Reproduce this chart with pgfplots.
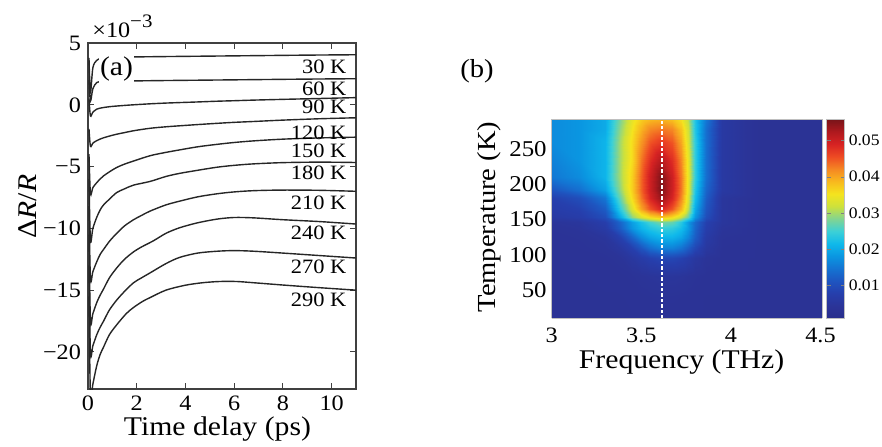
\documentclass[border=0pt]{standalone}
\usepackage{fontspec}
\setmainfont{Liberation Serif}[FakeStretch=1.1]
\usepackage{pgfplots}
\pgfplotsset{compat=1.18}

\newcommand\fs[1]{\fontsize{#1}{#1}\selectfont}

% faded jet-like palette used by the spectrum map and its colour bar
\pgfplotsset{colormap={fadedjet}{
  rgb255(0pt)=(42,46,140); rgb255(1pt)=(43,52,152); rgb255(2pt)=(38,62,172);
  rgb255(3pt)=(30,85,192); rgb255(4pt)=(20,115,210); rgb255(5pt)=(10,150,225);
  rgb255(6pt)=(15,185,235); rgb255(7pt)=(60,208,215); rgb255(8pt)=(130,212,145);
  rgb255(9pt)=(205,225,60); rgb255(10pt)=(245,228,30); rgb255(11pt)=(248,185,30);
  rgb255(12pt)=(245,135,35); rgb255(13pt)=(238,75,35); rgb255(14pt)=(215,35,35);
  rgb255(15pt)=(175,25,30); rgb255(16pt)=(120,20,25)},
  curve/.style={black!85, line width=0.7pt, mark=none, smooth, tension=0.5}}

\begin{document}
\begin{tikzpicture}
\useasboundingbox (0,0) rectangle (441pt,223pt);

% ---------------- (a) transient reflectivity ----------------
\begin{axis}[name=pa, at={(44pt,28.5pt)}, anchor=south west,
  scale only axis, width=134pt, height=173pt,
  xmin=0, xmax=11, ymin=-23, ymax=5,
  xtick={0,2,4,6,8,10}, ytick={-20,-15,-10,-5,0,5},
  yticklabels={−20,−15,−10,−5,0,5},
  /pgf/number format/assume math mode=true,
  tick label style={font=\fs{11}},
  major tick length=3pt,
  axis line style={draw=black!75, line width=0.55pt},
  every tick/.style={draw=black!75, line width=0.5pt},
  xlabel={Time delay (ps)}, ylabel={Δ\textit{R}/\textit{R}},
  xlabel style={font=\fs{13.5}, inner sep=0.5pt, at={(axis description cs:0.483,-0.133)}, anchor=base},
  ylabel style={font=\fs{13.5}, inner sep=0.5pt, at={(axis description cs:-0.194,0.527)}, anchor=base},
]
% 30 K
\addplot[curve] coordinates {(0.04,3.8) (0.10,1.0) (0.2,3.0) (0.36,3.6) (0.6,3.8) (1.0,3.85) (1.75,3.87) (3,3.9) (5,3.94) (7,3.98) (9,4.02) (11,4.05)};
% 60 K
\addplot[curve] coordinates {(0.04,2.0) (0.10,0.3) (0.2,1.3) (0.36,1.8) (0.6,1.9) (1.0,1.92) (1.75,1.93) (3,1.96) (5,2.0) (7,2.04) (9,2.08) (11,2.11)};
% 90 K
\addplot[curve] coordinates {(0.04,0.5) (0.10,-0.9) (0.2,-0.6) (0.36,-0.35) (0.5,-0.27) (0.64,-0.22) (0.9,-0.15) (1.18,-0.1) (1.5,-0.05) (1.87,0.0) (2.55,0.08) (3.2,0.14) (3.76,0.18) (4.5,0.23) (5.3,0.29) (6.0,0.33) (6.8,0.38) (8.0,0.44) (9.5,0.51) (11,0.58)};
% 120 K
\addplot[curve] coordinates {(0.04,-1.95) (0.10,-3.35) (0.2,-3.1) (0.36,-2.9) (0.5,-2.77) (0.64,-2.67) (0.9,-2.52) (1.18,-2.38) (1.5,-2.25) (1.87,-2.1) (2.55,-1.9) (3.2,-1.78) (3.76,-1.7) (4.5,-1.6) (5.3,-1.5) (6.0,-1.42) (6.8,-1.35) (8.0,-1.24) (9.5,-1.13) (11,-1.05)};
% 150 K
\addplot[curve] coordinates {(0.04,-4.0) (0.10,-7.2) (0.2,-6.7) (0.36,-6.3) (0.5,-6.0) (0.64,-5.75) (0.9,-5.4) (1.18,-5.07) (1.5,-4.8) (1.87,-4.55) (2.55,-4.12) (3.2,-3.85) (3.76,-3.65) (4.5,-3.4) (5.3,-3.2) (6.0,-3.05) (6.8,-2.92) (8.0,-2.78) (9.5,-2.68) (11,-2.62)};
% 180 K
\addplot[curve] coordinates {(0.04,-6.0) (0.10,-11.0) (0.2,-10.0) (0.36,-9.1) (0.5,-8.5) (0.64,-8.1) (0.9,-7.6) (1.18,-7.1) (1.5,-6.8) (1.87,-6.5) (2.55,-6.2) (3.2,-5.8) (3.76,-5.55) (4.5,-5.3) (5.3,-5.05) (6.0,-4.9) (6.8,-4.78) (8.0,-4.68) (9.5,-4.64) (11,-4.67)};
% 210 K
\addplot[curve] coordinates {(0.04,-8.2) (0.10,-14.1) (0.2,-13.5) (0.36,-12.7) (0.5,-12.1) (0.64,-11.7) (0.9,-11.0) (1.18,-10.4) (1.5,-9.8) (1.87,-9.3) (2.2,-8.95) (2.55,-8.6) (3.2,-8.1) (3.76,-7.8) (4.5,-7.45) (5.3,-7.2) (6.0,-7.05) (6.8,-6.95) (8.0,-6.9) (9.5,-6.92) (11,-7.0)};
% 240 K
\addplot[curve] coordinates {(0.04,-10.5) (0.10,-17.5) (0.2,-16.9) (0.36,-16.0) (0.5,-15.4) (0.64,-14.9) (0.88,-14.0) (1.18,-13.2) (1.5,-12.5) (1.87,-11.9) (2.2,-11.5) (2.69,-11.0) (3.2,-10.4) (3.76,-9.95) (4.5,-9.55) (5.3,-9.25) (6.0,-9.12) (6.8,-9.15) (8.0,-9.3) (9.5,-9.45) (11,-9.65)};
% 270 K
\addplot[curve] coordinates {(0.04,-13.0) (0.10,-20.1) (0.2,-19.5) (0.36,-18.6) (0.5,-18.0) (0.64,-17.5) (0.88,-16.6) (1.18,-15.8) (1.5,-15.1) (1.87,-14.4) (2.2,-14.0) (2.55,-13.6) (3.2,-12.85) (3.76,-12.35) (4.5,-12.0) (5.3,-11.85) (6.0,-11.8) (6.8,-11.85) (8.0,-12.0) (9.5,-12.2) (11,-12.4)};
% 290 K
\addplot[curve] coordinates {(0.04,-15.5) (0.10,-23.6) (0.2,-22.6) (0.36,-21.1) (0.5,-20.2) (0.64,-19.6) (0.88,-18.6) (1.18,-17.8) (1.57,-16.9) (1.87,-16.4) (2.25,-15.9) (2.55,-15.6) (3.2,-15.0) (4.0,-14.6) (4.7,-14.4) (5.4,-14.3) (6.1,-14.3) (6.8,-14.4) (8.1,-14.6) (9.5,-14.8) (11,-15.0)};

\begin{scope}[every node/.style={anchor=east, inner sep=0pt, font=\fs{10.2}}]
\node at (axis cs:10.62,3.06) {30 K};
\node at (axis cs:10.62,1.3) {60 K};
\node at (axis cs:10.62,-0.2) {90 K};
\node at (axis cs:10.62,-2.28) {120 K};
\node at (axis cs:10.62,-3.72) {150 K};
\node at (axis cs:10.62,-5.53) {180 K};
\node at (axis cs:10.62,-7.9) {210 K};
\node at (axis cs:10.62,-10.35) {240 K};
\node at (axis cs:10.62,-13.1) {270 K};
\node at (axis cs:10.62,-15.8) {290 K};
\end{scope}
\node[fill=white, inner xsep=0.5pt, inner ysep=2pt, font=\fs{13.5}] at (axis cs:1.17,2.87) {(a)};
\end{axis}
\node[anchor=base west, inner sep=0pt, font=\fs{11}] at ([xshift=2pt,yshift=3pt]pa.north west) {×10\raisebox{4.8pt}{\fs{9.5}−3}};

% ---------------- (b) oscillation spectrum map ----------------
\node[font=\fs{13}] at (238.5pt,187.5pt) {(b)};
\begin{axis}[name=pb, at={(275.85pt,63.85pt)}, anchor=south west,
  scale only axis, width=135.3pt, height=99.5pt,
  view={0}{90}, axis on top,
  xmin=3, xmax=4.51, ymin=10, ymax=292,
  xtick={3,3.5,4,4.5}, ytick={50,100,150,200,250}, ztick=\empty,
  major tick length=0pt,
  axis line style={draw=black!25, line width=0.5pt},
  /pgf/number format/assume math mode=true,
  tick label style={font=\fs{11.3}},
  xticklabel style={font=\fs{11}, inner sep=0.5pt, yshift=-4.3pt},
  yticklabel style={xshift=1pt},
  xlabel={Frequency (THz)}, ylabel={Temperature (K)},
  xlabel style={font=\fs{13.5}, inner sep=0pt, at={(axis description cs:0.48,-0.25)}, anchor=base},
  ylabel style={font=\fs{13}, inner sep=0.5pt, at={(axis description cs:-0.2095,0.509)}, anchor=base},
  colormap name=fadedjet, point meta min=0.0008, point meta max=0.0559,
  colorbar,
  colorbar shift/.style={xshift=2.2pt},
  colorbar style={at={(parent axis.north east)}, anchor=north west,
    width=9pt, ytick={0.01,0.02,0.03,0.04,0.05},
    yticklabels={0.01,0.02,0.03,0.04,0.05}, scaled y ticks=false,
    yticklabel style={font=\fs{8}, xshift=-1.5pt},
    major tick length=2pt,
    axis line style={draw=black!25, line width=0.5pt},
    /pgf/number format/assume math mode=true},
]
\addplot3[surf, shader=interp, mesh/cols=16] coordinates {
(3.00,10,0.0035) (3.15,10,0.0035) (3.30,10,0.0035) (3.38,10,0.0035) (3.45,10,0.0035) (3.50,10,0.0035) (3.55,10,0.0035) (3.61,10,0.0036) (3.67,10,0.0036) (3.72,10,0.0035) (3.76,10,0.0035) (3.80,10,0.0035) (3.86,10,0.0035) (3.95,10,0.0035) (4.15,10,0.0035) (4.51,10,0.0035)
(3.00,40,0.0035) (3.15,40,0.0035) (3.30,40,0.0035) (3.38,40,0.0035) (3.45,40,0.0036) (3.50,40,0.0037) (3.55,40,0.0038) (3.61,40,0.0039) (3.67,40,0.0039) (3.72,40,0.0038) (3.76,40,0.0037) (3.80,40,0.0036) (3.86,40,0.0035) (3.95,40,0.0035) (4.15,40,0.0035) (4.51,40,0.0035)
(3.00,70,0.0035) (3.15,70,0.0035) (3.30,70,0.0036) (3.38,70,0.0037) (3.45,70,0.0039) (3.50,70,0.0042) (3.55,70,0.0045) (3.61,70,0.0048) (3.67,70,0.0048) (3.72,70,0.0046) (3.76,70,0.0043) (3.80,70,0.0040) (3.86,70,0.0037) (3.95,70,0.0035) (4.15,70,0.0035) (4.51,70,0.0035)
(3.00,95,0.0035) (3.15,95,0.0036) (3.30,95,0.0038) (3.38,95,0.0042) (3.45,95,0.0055) (3.50,95,0.0068) (3.55,95,0.0080) (3.61,95,0.0090) (3.67,95,0.0090) (3.72,95,0.0082) (3.76,95,0.0070) (3.80,95,0.0055) (3.86,95,0.0042) (3.95,95,0.0036) (4.15,95,0.0035) (4.51,95,0.0035)
(3.00,110,0.0036) (3.15,110,0.0038) (3.30,110,0.0042) (3.38,110,0.0055) (3.45,110,0.0080) (3.50,110,0.0110) (3.55,110,0.0140) (3.61,110,0.0160) (3.67,110,0.0160) (3.72,110,0.0145) (3.76,110,0.0120) (3.80,110,0.0090) (3.86,110,0.0055) (3.95,110,0.0038) (4.15,110,0.0035) (4.51,110,0.0035)
(3.00,125,0.0038) (3.15,125,0.0040) (3.30,125,0.0048) (3.38,125,0.0080) (3.45,125,0.0130) (3.50,125,0.0170) (3.55,125,0.0195) (3.61,125,0.0210) (3.67,125,0.0210) (3.72,125,0.0195) (3.76,125,0.0165) (3.80,125,0.0120) (3.86,125,0.0065) (3.95,125,0.0040) (4.15,125,0.0035) (4.51,125,0.0035)
(3.00,138,0.0040) (3.15,138,0.0045) (3.30,138,0.0065) (3.38,138,0.0120) (3.45,138,0.0180) (3.50,138,0.0210) (3.55,138,0.0230) (3.61,138,0.0245) (3.67,138,0.0240) (3.72,138,0.0220) (3.76,138,0.0185) (3.80,138,0.0130) (3.86,138,0.0075) (3.95,138,0.0045) (4.15,138,0.0035) (4.51,138,0.0035)
(3.00,147,0.0045) (3.15,147,0.0050) (3.30,147,0.0075) (3.38,147,0.0130) (3.45,147,0.0190) (3.50,147,0.0225) (3.55,147,0.0255) (3.61,147,0.0280) (3.67,147,0.0270) (3.72,147,0.0235) (3.76,147,0.0185) (3.80,147,0.0135) (3.86,147,0.0080) (3.95,147,0.0050) (4.15,147,0.0035) (4.51,147,0.0035)
(3.00,153,0.0060) (3.15,153,0.0070) (3.30,153,0.0100) (3.38,153,0.0200) (3.45,153,0.0290) (3.50,153,0.0330) (3.55,153,0.0360) (3.61,153,0.0380) (3.67,153,0.0360) (3.72,153,0.0320) (3.76,153,0.0270) (3.80,153,0.0180) (3.86,153,0.0100) (3.95,153,0.0050) (4.15,153,0.0035) (4.51,153,0.0035)
(3.00,165,0.0070) (3.15,165,0.0080) (3.30,165,0.0120) (3.38,165,0.0240) (3.45,165,0.0330) (3.50,165,0.0400) (3.55,165,0.0450) (3.61,165,0.0490) (3.67,165,0.0450) (3.72,165,0.0390) (3.76,165,0.0310) (3.80,165,0.0200) (3.86,165,0.0110) (3.95,165,0.0050) (4.15,165,0.0035) (4.51,165,0.0035)
(3.00,180,0.0080) (3.15,180,0.0100) (3.30,180,0.0150) (3.38,180,0.0270) (3.45,180,0.0360) (3.50,180,0.0430) (3.55,180,0.0490) (3.61,180,0.0540) (3.67,180,0.0490) (3.72,180,0.0420) (3.76,180,0.0330) (3.80,180,0.0220) (3.86,180,0.0120) (3.95,180,0.0050) (4.15,180,0.0035) (4.51,180,0.0035)
(3.00,192,0.0110) (3.15,192,0.0140) (3.30,192,0.0190) (3.38,192,0.0290) (3.45,192,0.0370) (3.50,192,0.0440) (3.55,192,0.0500) (3.61,192,0.0556) (3.67,192,0.0500) (3.72,192,0.0430) (3.76,192,0.0340) (3.80,192,0.0230) (3.86,192,0.0130) (3.95,192,0.0060) (4.15,192,0.0035) (4.51,192,0.0035)
(3.00,210,0.0150) (3.15,210,0.0170) (3.30,210,0.0210) (3.38,210,0.0300) (3.45,210,0.0370) (3.50,210,0.0440) (3.55,210,0.0500) (3.61,210,0.0555) (3.67,210,0.0500) (3.72,210,0.0430) (3.76,210,0.0340) (3.80,210,0.0240) (3.86,210,0.0140) (3.95,210,0.0060) (4.15,210,0.0035) (4.51,210,0.0035)
(3.00,235,0.0160) (3.15,235,0.0180) (3.30,235,0.0210) (3.38,235,0.0300) (3.45,235,0.0360) (3.50,235,0.0430) (3.55,235,0.0480) (3.61,235,0.0520) (3.67,235,0.0480) (3.72,235,0.0420) (3.76,235,0.0340) (3.80,235,0.0240) (3.86,235,0.0140) (3.95,235,0.0060) (4.15,235,0.0035) (4.51,235,0.0035)
(3.00,260,0.0170) (3.15,260,0.0180) (3.30,260,0.0210) (3.38,260,0.0300) (3.45,260,0.0360) (3.50,260,0.0410) (3.55,260,0.0450) (3.61,260,0.0470) (3.67,260,0.0450) (3.72,260,0.0400) (3.76,260,0.0330) (3.80,260,0.0240) (3.86,260,0.0140) (3.95,260,0.0060) (4.15,260,0.0035) (4.51,260,0.0035)
(3.00,278,0.0170) (3.15,278,0.0180) (3.30,278,0.0200) (3.38,278,0.0290) (3.45,278,0.0350) (3.50,278,0.0390) (3.55,278,0.0420) (3.61,278,0.0430) (3.67,278,0.0420) (3.72,278,0.0380) (3.76,278,0.0320) (3.80,278,0.0230) (3.86,278,0.0140) (3.95,278,0.0060) (4.15,278,0.0035) (4.51,278,0.0035)
(3.00,292,0.0170) (3.15,292,0.0180) (3.30,292,0.0200) (3.38,292,0.0280) (3.45,292,0.0340) (3.50,292,0.0370) (3.55,292,0.0385) (3.61,292,0.0390) (3.67,292,0.0380) (3.72,292,0.0355) (3.76,292,0.0310) (3.80,292,0.0230) (3.86,292,0.0150) (3.95,292,0.0060) (4.15,292,0.0035) (4.51,292,0.0035)
};
\addplot3[white, line width=0.7pt, dash pattern=on 1.7pt off 1pt] coordinates {(3.616,10,0.06) (3.616,292,0.06)};
\end{axis}
\end{tikzpicture}
\end{document}
